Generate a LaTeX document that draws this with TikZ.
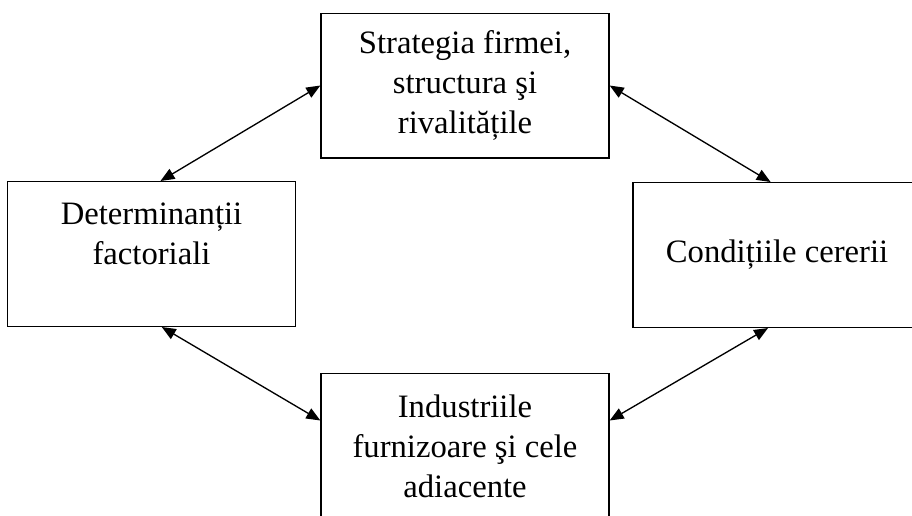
\documentclass[tikz,border=0pt]{standalone}
\usepackage{fontspec}
\setmainfont{Liberation Serif}
\usetikzlibrary{positioning, arrows.meta}

\begin{document}
\begin{tikzpicture}[x=0.75pt,y=-0.75pt,line width=1pt,
  box/.style={draw, minimum width=216pt, minimum height=108.5pt, align=center,
    font=\fontsize{24.5}{30}\selectfont},
  >={Triangle[length=10.5pt,width=8.5pt]}]
  \clip (0,0) rectangle (912,515);

  % Define boxes
  \node[box] (strat) at (465,85.5)  {Strategia firmei,\\structura şi\\rivalitățile};
  \node[box] (factor) at (151.5,254) {Determinanții\\factoriali\\ ~};  % empty last line keeps text high
  \node[box] (cerere) at (777,255)   {Condițiile cererii};
  \node[box] (ind) at (465,446)      {Industriile\\furnizoare şi cele\\adiacente};

  % Define arrows
  \path[<->]
    (factor.83)  edge (strat.west)
    (strat.east) edge (cerere.95)
    (factor.278) edge (ind.170)
    (cerere.263) edge (ind.10);

\end{tikzpicture}
\end{document}
